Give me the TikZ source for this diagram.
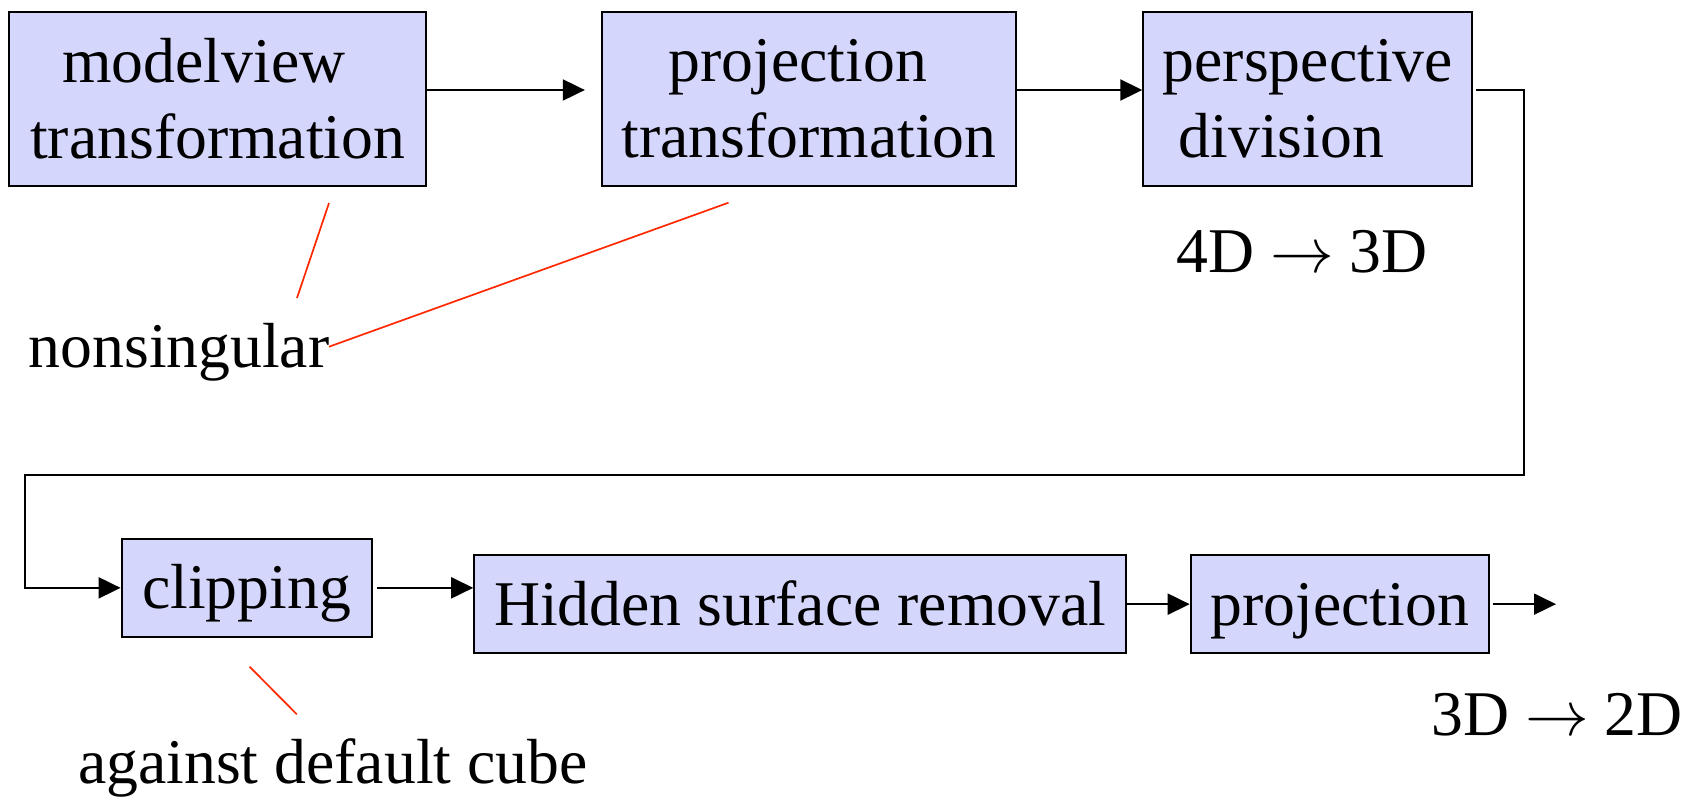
\documentclass[tikz,border=0pt]{standalone}
\usepackage{graphicx}
\usepackage{fontspec}
\setmainfont{Liberation Serif}
\usetikzlibrary{arrows.meta,calc}
\definecolor{boxfill}{RGB}{213,214,252}
\definecolor{notered}{RGB}{255,40,0}
% a text-sized right arrow
\newcommand{\bigto}{\scalebox{6.37}{\normalsize$\rightarrow$}}
\begin{document}
\begin{tikzpicture}[x=1pt,y=-1pt,
  stage/.style={draw=black, line width=2pt, fill=boxfill, inner sep=0pt,
    font=\fontsize{63.7}{76}\selectfont},
  oneline/.style={text height=44pt, text depth=2pt},
  flow/.style={line width=2pt, -{Triangle[length=22pt,width=21pt]}},
  link/.style={line width=2pt},
  note/.style={draw=notered, line width=1.7pt},
  lbl/.style={inner sep=0pt, font=\fontsize{63.7}{76}\selectfont}]
\useasboundingbox (0,0) rectangle (1706,796);

% upper row
\node[stage, align=center, minimum width=417pt, minimum height=174pt]
  (mv) at (217.75,98.7) {modelview\hspace*{28pt}\\transformation};
\node[stage, align=center, minimum width=414pt, minimum height=174pt]
  (pt) at (808.85,98.7) {projection\hspace*{22pt}\\transformation};
\node[stage, align=left, minimum width=329pt, minimum height=174pt]
  (pd) at (1307.8,98.7) {perspective\\\hspace*{16pt}division};

% lower row
\node[stage, oneline, minimum width=250pt, minimum height=98pt]
  (cl) at (246.6,587.85) {clipping};
\node[stage, oneline, minimum width=652pt, minimum height=98pt]
  (hs) at (800.2,604.15) {Hidden surface removal};
\node[stage, oneline, minimum width=298pt, minimum height=98pt]
  (pj) at (1339.7,604.15) {projection};

% annotations
\node[lbl, anchor=base west] (ns) at (28.5,367) {nonsingular};
\node[lbl, anchor=base] (d43) at (1302,272) {4D \bigto{} 3D};
\node[lbl, anchor=base] (d32) at (1557,735) {3D \bigto{} 2D};
\node[lbl, anchor=base west] (cube) at (78,783) {against default cube};

% pipeline connectors
\draw[flow, shorten >=16pt] ([yshift=8.7pt]mv.east) -- ([yshift=8.7pt]pt.west);
\draw[flow] ([yshift=8.7pt]pt.east) -- ([yshift=8.7pt]pd.west);
\coordinate (turnA) at (1524,90);
\coordinate (turnB) at (1524,475);
\coordinate (turnC) at (24.7,475);
\coordinate (turnD) at (24.7,587.85);
\draw[flow, shorten <=2.5pt] ([yshift=8.7pt]pd.east) -- (turnA) -- (turnB)
  -- (turnC) -- (turnD) -- (cl.west);
\draw[flow, shorten <=4.5pt] (cl.east) -- (cl.east -| hs.west);
\draw[flow] (hs.east) -- (pj.west);
\coordinate (out) at (1556,604.15);
\draw[flow, shorten <=3pt] (pj.east) -- (out);

% red pointer lines
\coordinate (nsA) at (329,203);
\coordinate (nsB) at (297,298);
\coordinate (nsC) at (728.5,202.7);
\coordinate (nsD) at (329,346.7);
\coordinate (cbA) at (249.6,666.7);
\coordinate (cbB) at (296.8,714.3);
\draw[note] (nsA) -- (nsB);
\draw[note] (nsC) -- (nsD);
\draw[note] (cbA) -- (cbB);
\end{tikzpicture}
\end{document}
